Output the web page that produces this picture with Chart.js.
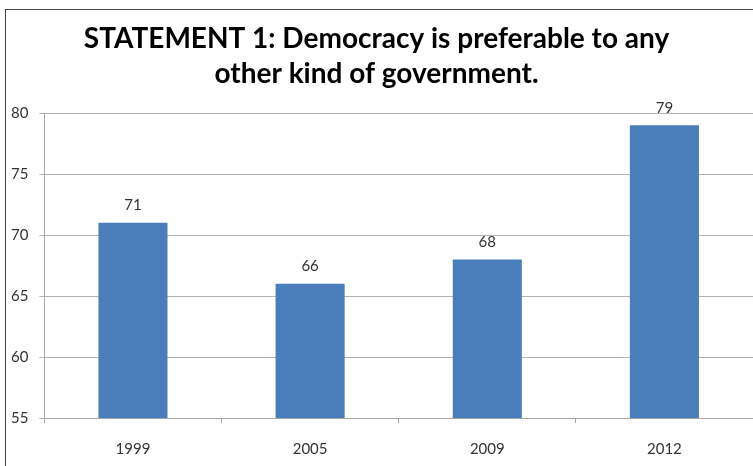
<!DOCTYPE html>
<html>
<head>
<meta charset="utf-8">
<script src="https://cdn.jsdelivr.net/npm/chart.js@4"></script>
<style>
  html, body { margin: 0; padding: 0; background: #fff; }
  #wrap { position: relative; width: 753px; height: 466px; overflow: hidden; }
  #frame { position: absolute; left: 5px; top: 9px; width: 800px; height: 500px;
           border-left: 1px solid #444; border-top: 1px solid #444; pointer-events: none; }
  canvas { position: absolute; left: 0; top: 0; }
</style>
</head>
<body>
<div id="wrap">
  <canvas id="chart-statement" width="753" height="466"></canvas>
  <div id="frame"></div>
</div>
<script>
const years = ['1999', '2005', '2009', '2012']
const support = [71, 66, 68, 79]
const title_lines = ['STATEMENT 1: Democracy is preferable to any', 'other kind of government.']

// value labels above each bar
const bar_labels = {
  id: 'bar_labels',
  afterDatasetsDraw(chart) {
    const ctx = chart.ctx
    const meta = chart.getDatasetMeta(0)
    ctx.save()
    ctx.font = '15px Lato'
    ctx.fillStyle = '#333'
    ctx.textAlign = 'center'
    ctx.textBaseline = 'bottom'
    meta.data.forEach((bar, i) => {
      ctx.fillText(support[i], bar.x, bar.y - 10)
    })
    ctx.restore()
  }
}

function make_chart(){
  const canvas = document.getElementById('chart-statement')
  return new Chart(canvas, {
    type: 'bar',
    data: {
      labels: years,
      datasets: [{
        data: support,
        backgroundColor: '#4a7ebb',
        categoryPercentage: 1,
        barPercentage: 0.39,
      }]
    },
    options: {
      responsive: false,
      animation: false,
      layout: { padding: { left: 0, right: 0, top: 0, bottom: -9 } },
      plugins: {
        legend: { display: false },
        tooltip: { enabled: false },
        title: {
          display: true,
          text: title_lines,
          color: '#000',
          font: { family: 'Lato', size: 28, weight: 'bold', lineHeight: 1.25 },
          padding: { top: 21, bottom: 22 },
        },
      },
      scales: {
        x: {
          grid: { display: true, offset: true, drawOnChartArea: false, tickLength: 5, color: '#a6a6a6' },
          border: { color: '#a6a6a6' },
          ticks: { color: '#333', font: { family: 'Lato', size: 15 }, padding: 17 },
        },
        y: {
          min: 55,
          max: 80,
          grid: { color: '#b3b3b3', tickLength: 5 },
          border: { color: '#a6a6a6' },
          ticks: { stepSize: 5, color: '#333', font: { family: 'Lato', size: 15 }, padding: 11 },
        }
      }
    },
    plugins: [bar_labels]
  })
}

let chart = make_chart()
</script>
</body>
</html>
